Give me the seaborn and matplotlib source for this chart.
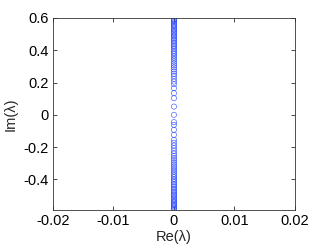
import matplotlib
matplotlib.use("Agg")
import matplotlib.pyplot as plt
import matplotlib.ticker as mticker
import seaborn as sns
import pandas as pd

# Wartosci wlasne (czesc rzeczywista ~ 0)
im_upper = [0.595, 0.588, 0.581, 0.574, 0.566, 0.558, 0.551, 0.543, 0.535, 0.527,
            0.519, 0.510, 0.502, 0.493, 0.484, 0.475, 0.466, 0.457, 0.447, 0.437,
            0.428, 0.418, 0.407, 0.397, 0.386, 0.376, 0.365, 0.353, 0.342, 0.330,
            0.318, 0.306, 0.294, 0.281, 0.268, 0.254, 0.240, 0.223, 0.206, 0.190,
            0.165, 0.134, 0.103, 0.051]
im_lower = [0.0, -0.045, -0.062, -0.093, -0.124, -0.155, -0.173, -0.190, -0.206, -0.223,
            -0.240, -0.254, -0.268, -0.281, -0.294, -0.306, -0.318, -0.330, -0.342, -0.353,
            -0.365, -0.376, -0.386, -0.397, -0.407, -0.418, -0.428, -0.437, -0.447, -0.457,
            -0.466, -0.475, -0.484, -0.493, -0.502, -0.510, -0.519, -0.527, -0.535, -0.543,
            -0.551, -0.558, -0.566, -0.574, -0.581, -0.588]
im_vals = im_upper + im_lower
re_vals = [0.0] * len(im_vals)

x_ticks = [-0.02, -0.01, 0, 0.01, 0.02]
y_ticks = [-0.4, -0.2, 0, 0.2, 0.4, 0.6]

df = pd.DataFrame({"re": re_vals, "im": im_vals})

sns.set_style("ticks")
plt.rcParams["font.family"] = ["Liberation Sans", "DejaVu Sans"]
plt.rcParams["xtick.direction"] = "in"
plt.rcParams["ytick.direction"] = "in"

fig = plt.figure(figsize=(3.27, 2.46), dpi=100)
ax = fig.add_axes([0.162, 0.146, 0.740, 0.781])

sns.scatterplot(data=df, x="re", y="im", ax=ax, marker="o", s=14,
                facecolors="none", edgecolor="#2040ff", linewidth=0.45, alpha=0.85)

ax.set_xlim(-0.02, 0.02)
ax.set_ylim(-0.59, 0.6)
ax.set_xticks(x_ticks)
ax.set_yticks(y_ticks)
ax.xaxis.set_major_formatter(mticker.FormatStrFormatter("%g"))
ax.yaxis.set_major_formatter(mticker.FormatStrFormatter("%g"))
ax.tick_params(labelsize=10.5, length=3, width=0.5, top=True, right=True, pad=3,
               colors="black")
for s in ax.spines.values():
    s.set_linewidth(0.6)
    s.set_color("#333333")
ax.set_xlabel("Re(λ)", fontsize=10.5, labelpad=1)
ax.set_ylabel("Im(λ)", fontsize=10.5, labelpad=4)

fig.savefig("out.png", dpi=100)
